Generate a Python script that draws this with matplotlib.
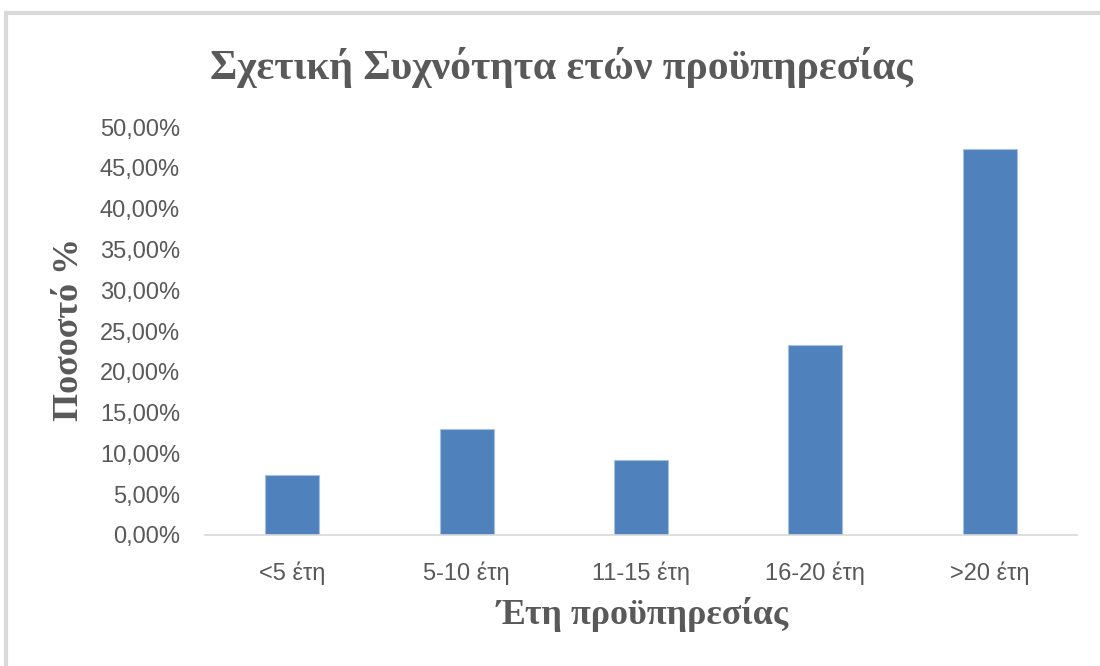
import matplotlib.pyplot as plt
from matplotlib.patches import Rectangle
from matplotlib.ticker import FuncFormatter

# data
categories = ['<5 έτη', '5-10 έτη', '11-15 έτη', '16-20 έτη', '>20 έτη']
shares = [0.0741, 0.1297, 0.0922, 0.2324, 0.4730]

title = 'Σχετική Συχνότητα ετών προϋπηρεσίας'
xlabel = 'Έτη προϋπηρεσίας'
ylabel = 'Ποσοστό %'

grey = '#595959'
serif = ['Liberation Serif', 'DejaVu Serif']
sans = ['Liberation Sans', 'DejaVu Sans']

fig = plt.figure(figsize=(11, 6.66), dpi=100)

# chart frame like the Excel border
fig.patches.append(Rectangle((6 / 1100, -0.05), 1.2, 1 - 13 / 666 + 0.05,
                             transform=fig.transFigure, fill=False,
                             edgecolor='#d9d9d9', linewidth=3))

ax = fig.add_axes([205 / 1100, 1 - 535 / 666, (1077 - 205) / 1100, (535 - 127) / 666])
x = range(len(categories))
ax.bar(x, shares, width=0.31, color='#4f81bd', edgecolor='#a7c0e0', linewidth=0.8)

ax.set_xlim(-0.5, len(categories) - 0.5)
ax.set_ylim(0, 0.5)
ax.set_yticks([i * 0.05 for i in range(11)])
ax.yaxis.set_major_formatter(FuncFormatter(lambda v, p: f'{v * 100:.2f}%'.replace('.', ',')))
ax.set_xticks(list(x))
ax.set_xticklabels(categories)

for s in ['top', 'right', 'left']:
    ax.spines[s].set_visible(False)
ax.spines['bottom'].set_color('#d9d9d9')
ax.spines['bottom'].set_linewidth(1.2)
ax.tick_params(axis='both', length=0, colors=grey, labelsize=17)
ax.tick_params(axis='y', pad=18)
ax.tick_params(axis='x', pad=19)
for lab in ax.get_xticklabels() + ax.get_yticklabels():
    lab.set_family(sans)

fig.text(561 / 1100, 1 - 68 / 666, title, ha='center', va='center',
         fontsize=30, fontweight='bold', color=grey, family=serif)
fig.text(643 / 1100, 1 - 615 / 666, xlabel, ha='center', va='center',
         fontsize=26, fontweight='bold', color=grey, family=serif)
fig.text(70 / 1100, 1 - 329 / 666, ylabel, ha='center', va='center', rotation=90,
         fontsize=26, fontweight='bold', color=grey, family=serif)

fig.savefig('out.png', dpi=100, facecolor='white')
